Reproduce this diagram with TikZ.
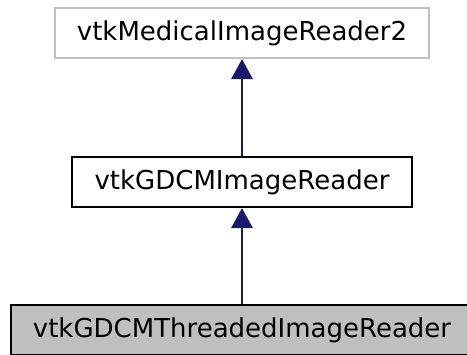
\documentclass[tikz,border=0pt]{standalone}
\usepackage{fontspec}
\setmainfont{DejaVu Sans}
\usetikzlibrary{arrows.meta, positioning}

\definecolor{edgeblue}{HTML}{191970}
\definecolor{extgray}{HTML}{BFBFBF}

\begin{document}
\begin{tikzpicture}[x=0.75pt, y=-0.75pt,
        classbox/.style={draw, line width=1.6pt, minimum height=37.5pt, inner sep=0pt,
            font=\fontsize{19.5}{23}\selectfont},
        inherit/.style={draw=edgeblue, line width=1.5pt,
            -{Triangle[length=15pt, width=16pt, fill=edgeblue]}}]
        \useasboundingbox (0,0) rectangle (467,354);

        % Classes
        \node[classbox, draw=extgray, minimum width=281pt] (medreader) at (242,33) {vtkMedicalImageReader2};
        \node[classbox, minimum width=255pt] (gdcmreader) at (242,182) {vtkGDCMImageReader};
        \node[classbox, fill=extgray, minimum width=346pt] (threaded) at (242,330) {vtkGDCMThreadedImageReader};

        % Inheritance
        \draw[inherit] (gdcmreader.north) -- (medreader.south);
        \draw[inherit] (threaded.north) -- (gdcmreader.south);
    \end{tikzpicture}
\end{document}
